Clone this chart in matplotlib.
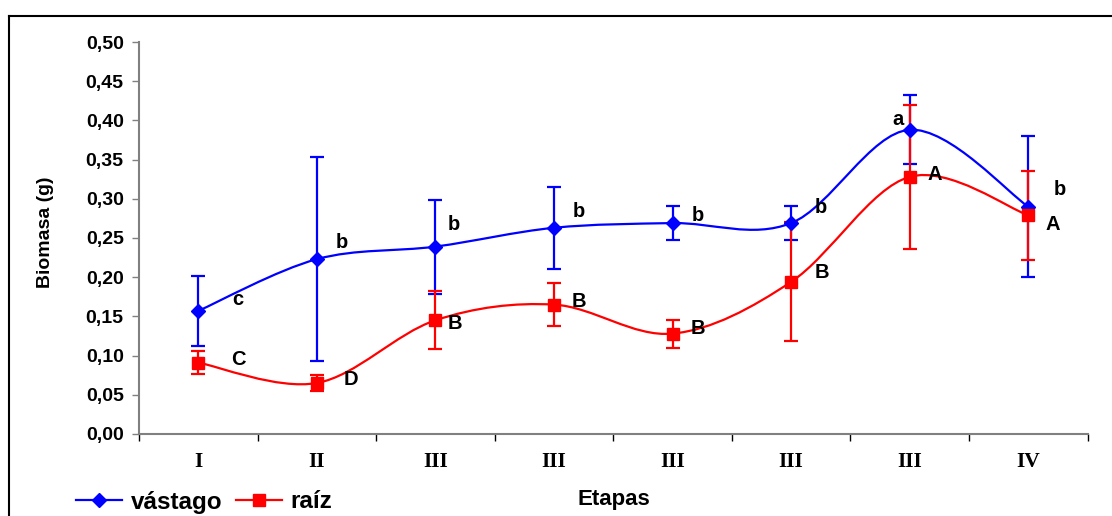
import numpy as np
import matplotlib
matplotlib.use('Agg')
import matplotlib.pyplot as plt
from matplotlib.path import Path
from matplotlib.patches import PathPatch
from matplotlib.lines import Line2D
from matplotlib.ticker import FuncFormatter

# datos
etapas = ['I', 'II', 'III', 'III', 'III', 'III', 'III', 'IV']
vastago = [0.157, 0.223, 0.239, 0.263, 0.269, 0.269, 0.388, 0.290]
vastago_err = [0.045, 0.130, 0.060, 0.052, 0.022, 0.022, 0.044, 0.090]
vastago_letras = ['c', 'b', 'b', 'b', 'b', 'b', 'a', 'b']
raiz = [0.091, 0.065, 0.145, 0.165, 0.128, 0.194, 0.328, 0.279]
raiz_err = [0.015, 0.010, 0.037, 0.027, 0.018, 0.076, 0.092, 0.057]
raiz_letras = ['C', 'D', 'B', 'B', 'B', 'B', 'A', 'A']

# desplazamiento de las letras (pixeles)
off_v = [(40, 11), (25, 17), (18, 22), (25, 16), (25, 8), (30, 16), (-12, 10), (32, 17)]
off_r = [(40, 3), (34, 4), (19, -3), (25, 3), (25, 5), (31, 9), (25, 2), (24, -9)]

AZUL = '#0000FF'
ROJO = '#FF0000'
GRIS = '#808080'


def curva(x, y):
    # suavizado tipo Excel (Catmull-Rom -> Bezier)
    p = np.column_stack([x, y]).astype(float)
    verts = [p[0]]
    codes = [Path.MOVETO]
    n = len(p)
    for i in range(n - 1):
        p0 = p[i - 1] if i > 0 else p[i]
        p1 = p[i]
        p2 = p[i + 1]
        p3 = p[i + 2] if i + 2 < n else p[i + 1]
        c1 = p1 + (p2 - p0) / 6
        c2 = p2 - (p3 - p1) / 6
        verts += [c1, c2, p2]
        codes += [Path.CURVE4] * 3
    return Path(verts, codes)


fig = plt.figure(figsize=(11.12, 5.16), dpi=100)
ax = fig.add_axes([0.125, 0.159, 0.853, 0.7596])

x = np.arange(1, len(etapas) + 1)

# líneas suavizadas
ax.add_patch(PathPatch(curva(x, vastago), fill=False, edgecolor=AZUL, lw=1.6, zorder=3))
ax.add_patch(PathPatch(curva(x, raiz), fill=False, edgecolor=ROJO, lw=1.6, zorder=3))

# barras de error
ax.errorbar(x, vastago, yerr=vastago_err, fmt='none', ecolor=AZUL, elinewidth=1.6,
            capsize=4.8, capthick=1.6, zorder=4)
ax.errorbar(x, raiz, yerr=raiz_err, fmt='none', ecolor=ROJO, elinewidth=1.6,
            capsize=4.8, capthick=1.6, zorder=5)

# marcadores
ax.plot(x, vastago, linestyle='none', marker='D', ms=7, color=AZUL, zorder=6)
ax.plot(x, raiz, linestyle='none', marker='s', ms=8.5, color=ROJO, zorder=6)

# letras de significancia
for xi, yi, t, o in zip(x, vastago, vastago_letras, off_v):
    ax.annotate(t, (xi, yi), xytext=o, textcoords='offset pixels', ha='center', va='center',
                fontsize=14.5, fontweight='bold', family='Liberation Sans', zorder=7)
for xi, yi, t, o in zip(x, raiz, raiz_letras, off_r):
    ax.annotate(t, (xi, yi), xytext=o, textcoords='offset pixels', ha='center', va='center',
                fontsize=14.5, fontweight='bold', family='Liberation Sans', zorder=7)

# ejes
ax.set_xlim(0.5, len(etapas) + 0.5)
ax.set_ylim(0, 0.5)
ax.set_yticks(np.arange(0, 0.501, 0.05))
ax.yaxis.set_major_formatter(FuncFormatter(lambda v, p: f'{v:.2f}'.replace('.', ',')))
ax.set_xticks(np.arange(0.5, len(etapas) + 1, 1))
ax.set_xticklabels([])
ax.set_xticks(x, minor=True)
ax.set_xticklabels(etapas, minor=True, family='Liberation Serif', fontweight='bold', fontsize=15.5)
ax.tick_params(axis='x', which='minor', length=0, pad=13)
ax.tick_params(axis='x', which='major', length=5, color='black', width=1, direction='out')
ax.tick_params(axis='y', length=5, color=GRIS, width=1, direction='out', pad=6)
for lab in ax.get_yticklabels():
    lab.set_family('Liberation Sans')
    lab.set_fontweight('bold')
    lab.set_fontsize(14)
for s in ['top', 'right']:
    ax.spines[s].set_visible(False)
for s in ['left', 'bottom']:
    ax.spines[s].set_color(GRIS)
    ax.spines[s].set_linewidth(1.5)

fig.text(46 / 1112, 1 - 232 / 516, 'Biomasa (g)', rotation=90, ha='center', va='center',
         fontsize=14, fontweight='bold', family='Liberation Sans')
fig.text(614 / 1112, 1 - 500 / 516, 'Etapas', ha='center', va='center',
         fontsize=16, fontweight='bold', family='Liberation Sans')

# leyenda
h1 = Line2D([], [], color=AZUL, lw=1.6, marker='D', ms=7)
h2 = Line2D([], [], color=ROJO, lw=1.6, marker='s', ms=8.5)
leg = fig.legend([h1, h2], ['vástago', 'raíz'], loc='center left',
                 bbox_to_anchor=(76 / 1112, 1 - 502 / 516), ncol=2, frameon=False,
                 prop={'family': 'Liberation Sans', 'weight': 'bold', 'size': 17.5},
                 handlelength=1.9, handletextpad=0.35, columnspacing=0.55, borderpad=0,
                 borderaxespad=0)

# marco
fig.add_artist(Line2D([8.5 / 1112, 1], [1 - 16 / 516, 1 - 16 / 516], color='black', lw=1.5,
                      transform=fig.transFigure))
fig.add_artist(Line2D([8.5 / 1112, 8.5 / 1112], [0, 1 - 16 / 516], color='black', lw=1.5,
                      transform=fig.transFigure))

fig.savefig('out.png', dpi=100)
